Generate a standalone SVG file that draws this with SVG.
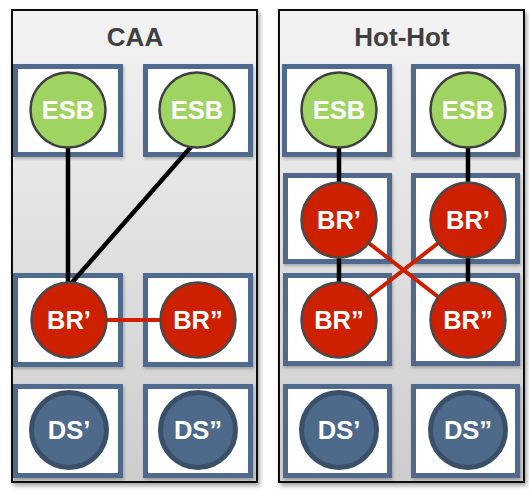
<svg xmlns="http://www.w3.org/2000/svg" width="529" height="491" viewBox="0 0 529 491">
<defs>
<linearGradient id="pg" x1="0" y1="0" x2="0" y2="1">
<stop offset="0" stop-color="#f3f3f3"/>
<stop offset="1" stop-color="#cdcdcd"/>
</linearGradient>
<filter id="sh" x="-10%" y="-10%" width="120%" height="120%">
<feDropShadow dx="2" dy="3" stdDeviation="2" flood-color="#000" flood-opacity="0.35"/>
</filter>
<filter id="bsh" x="-10%" y="-10%" width="125%" height="125%">
<feDropShadow dx="1" dy="2" stdDeviation="1.5" flood-color="#000" flood-opacity="0.25"/>
</filter>
</defs>
<style>
.panel{fill:url(#pg);stroke:#111;stroke-width:2}
.title{font-family:"Liberation Sans",Arial,sans-serif;font-weight:bold;font-size:26px;fill:#404040;text-anchor:middle}
.box{fill:#fff;stroke:#4f6b8c;stroke-width:5;filter:url(#bsh)}
.esb{fill:#9fd463;stroke:#404040;stroke-width:2.5}
.br{fill:#cc2000;stroke:#4a4a4a;stroke-width:2.5}
.ds{fill:#4e6a8a;stroke:#3a5069;stroke-width:5}
.lbl{font-family:"Liberation Sans",Arial,sans-serif;font-weight:bold;font-size:25.5px;fill:#fff;text-anchor:middle}
.blk{stroke:#000;stroke-width:4.5;fill:none}
.red{stroke:#cc2000;stroke-width:4;fill:none}
</style>

<g id="panel-caa">
<rect class="panel" x="12" y="10" width="245" height="472" filter="url(#sh)"/>
<text class="title" x="135" y="46">CAA</text>
</g>
<g id="panel-hothot">
<rect class="panel" x="279" y="10" width="245" height="472" filter="url(#sh)"/>
<text class="title" x="402" y="46">Hot-Hot</text>
</g>

<g id="cells">
<rect class="box" x="15.5" y="66.5" width="105" height="88"/>
<rect class="box" x="145.5" y="66.5" width="105" height="88"/>
<rect class="box" x="15.5" y="275.5" width="105" height="89"/>
<rect class="box" x="145.5" y="275.5" width="105" height="89"/>
<rect class="box" x="15.5" y="386.5" width="105" height="89"/>
<rect class="box" x="145.5" y="386.5" width="105" height="89"/>

<rect class="box" x="284.5" y="66.5" width="105" height="88"/>
<rect class="box" x="413.5" y="66.5" width="104" height="88"/>
<rect class="box" x="285.5" y="175.5" width="104" height="86"/>
<rect class="box" x="413.5" y="175.5" width="104" height="86"/>
<rect class="box" x="285.5" y="275.5" width="104" height="88"/>
<rect class="box" x="413.5" y="275.5" width="104" height="88"/>
<rect class="box" x="285.5" y="386.5" width="104" height="89"/>
<rect class="box" x="413.5" y="386.5" width="104" height="89"/>
</g>

<g id="connectors">
<line class="blk" x1="68" y1="140" x2="68" y2="290"/>
<line class="blk" x1="197" y1="140" x2="68" y2="287"/>
<line class="red" x1="100" y1="320" x2="170" y2="320"/>

<line class="blk" x1="339" y1="140" x2="339" y2="300"/>
<line class="blk" x1="468" y1="140" x2="468" y2="300"/>
<line class="red" x1="339" y1="220" x2="468" y2="320"/>
<line class="red" x1="468" y1="220" x2="339" y2="320"/>
</g>

<g id="caa-esb1"><circle class="esb" cx="68" cy="110" r="37.5"/><text class="lbl" x="68" y="119">ESB</text></g>
<g id="caa-esb2"><circle class="esb" cx="197" cy="110" r="37.5"/><text class="lbl" x="197" y="119">ESB</text></g>
<g id="caa-br1"><circle class="br" cx="69" cy="320" r="37.5"/><text class="lbl" x="69" y="329">BR’</text></g>
<g id="caa-br2"><circle class="br" cx="198" cy="320" r="37.5"/><text class="lbl" x="198" y="329">BR”</text></g>
<g id="caa-ds1"><circle class="ds" cx="69" cy="430" r="37.5"/><text class="lbl" x="69" y="439">DS’</text></g>
<g id="caa-ds2"><circle class="ds" cx="198" cy="430" r="37.5"/><text class="lbl" x="198" y="439">DS”</text></g>

<g id="hh-esb1"><circle class="esb" cx="339" cy="110" r="37.5"/><text class="lbl" x="339" y="119">ESB</text></g>
<g id="hh-esb2"><circle class="esb" cx="468" cy="110" r="37.5"/><text class="lbl" x="468" y="119">ESB</text></g>
<g id="hh-br1a"><circle class="br" cx="339" cy="220" r="37.5"/><text class="lbl" x="339" y="229">BR’</text></g>
<g id="hh-br1b"><circle class="br" cx="468" cy="220" r="37.5"/><text class="lbl" x="468" y="229">BR’</text></g>
<g id="hh-br2a"><circle class="br" cx="339" cy="320" r="37.5"/><text class="lbl" x="339" y="329">BR”</text></g>
<g id="hh-br2b"><circle class="br" cx="468" cy="320" r="37.5"/><text class="lbl" x="468" y="329">BR”</text></g>
<g id="hh-ds1"><circle class="ds" cx="339" cy="430" r="37.5"/><text class="lbl" x="339" y="439">DS’</text></g>
<g id="hh-ds2"><circle class="ds" cx="468" cy="430" r="37.5"/><text class="lbl" x="468" y="439">DS”</text></g>
</svg>
